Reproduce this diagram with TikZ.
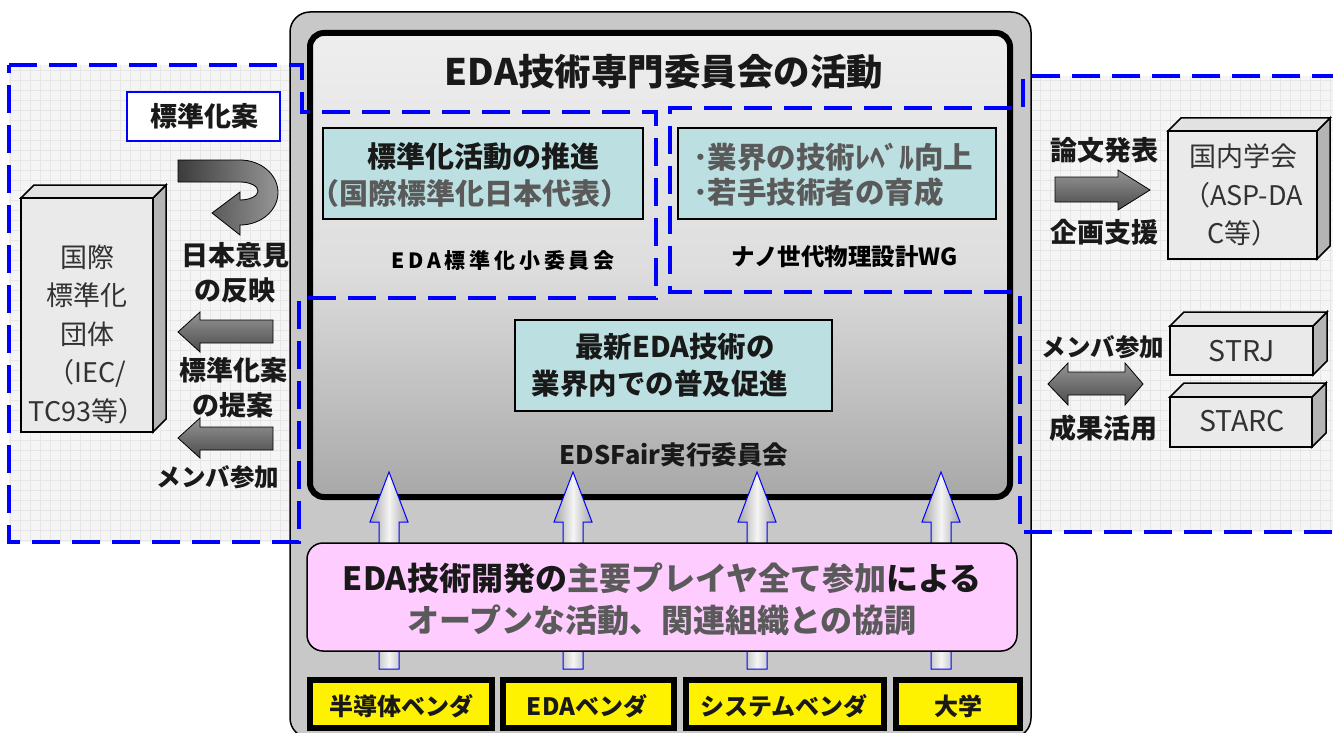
\documentclass[tikz,border=0pt]{standalone}
\usepackage{fontspec}
\setmainfont{Noto Sans CJK JP}
\newfontfamily\jpwide{Noto Sans CJK JP}[LetterSpace=18]
\definecolor{dblue}{RGB}{0,0,255}
\definecolor{cyanfill}{RGB}{188,224,226}
\definecolor{pinkfill}{RGB}{255,204,255}
\definecolor{txtgray}{RGB}{90,90,90}
\definecolor{txtblack}{RGB}{25,25,25}
\definecolor{txtdark}{RGB}{50,50,50}
\definecolor{outergray}{RGB}{200,200,200}
\definecolor{regionbg}{RGB}{245,245,245}
\definecolor{gridc}{RGB}{230,230,230}
\definecolor{boxfront}{RGB}{234,234,234}
\definecolor{boxtop}{RGB}{226,226,226}
\definecolor{boxside}{RGB}{180,180,180}
\definecolor{arrlight}{RGB}{150,150,150}
\definecolor{arrdark}{RGB}{75,75,75}
\definecolor{innertop}{RGB}{238,238,238}
\definecolor{innermid}{RGB}{222,222,222}
\definecolor{innerbot}{RGB}{168,168,168}
\newcommand{\tdbox}[5]{%
  \filldraw[fill=boxside, draw=black, line width=1.5] (#3,#2) -- ++(#5,-#5) -- ++(0,#4-#2) -- (#3,#4) -- cycle;
  \filldraw[fill=boxtop, draw=black, line width=1.5] (#1,#2) -- ++(#5,-#5) -- (#3+#5,#2-#5) -- (#3,#2) -- cycle;
  \filldraw[fill=boxfront, draw=black, line width=1.5] (#1,#2) rectangle (#3,#4);
}
\begin{document}
\begin{tikzpicture}[x=1pt,y=-1pt,
  lbl/.style={font=\bfseries\fontsize{27}{35}\selectfont, text=txtblack, align=center, inner sep=0pt},
  boxtxt/.style={font=\fontsize{27}{38.5}\selectfont, text=txtdark, align=center, inner sep=0pt},
  cyanbox/.style={fill=cyanfill, draw=black, line width=1.2},
  dreg/.style={draw=dblue, line width=4, dash pattern=on 28pt off 12pt},
  darrow/.style={top color=arrlight, bottom color=arrdark, draw=black, line width=0.8},
  uarrow/.style={left color=gray!70, right color=gray!70, middle color=gray!8, draw=dblue, line width=1},
  ybox/.style={fill=yellow, draw=black, line width=6},
  ytxt/.style={font=\bfseries\fontsize{24}{28}\selectfont, text=txtblack, inner sep=0pt},
]
\useasboundingbox (0,0) rectangle (1333,733);
\fill[white] (0,0) rectangle (1333,733);

% region backgrounds with faint grid
\begin{scope}
  \clip (9,65) -- (302,65) -- (302,112) -- (656,112) -- (656,298) -- (299,298) -- (299,542) -- (9,542) -- cycle;
  \fill[regionbg] (0,0) rectangle (700,560);
  \draw[gridc, line width=0.6, step=10pt] (0,560) grid (700,0);
\end{scope}
\begin{scope}
  \clip (1340,76) -- (1023,76) -- (1023,108) -- (670,108) -- (670,292) -- (1020,292) -- (1020,532) -- (1340,532) -- cycle;
  \fill[regionbg] (650,60) rectangle (1340,540);
  \draw[gridc, line width=0.6, step=10pt] (650,540) grid (1340,60);
\end{scope}

% outer gray frame
\filldraw[fill=outergray, draw=black, line width=1.5, rounded corners=20pt] (290,12) rectangle (1031,738);
% inner committee frame
\draw[line width=6, rounded corners=14pt, top color=innertop, bottom color=innerbot, middle color=innermid] (310,33) rectangle (1010,497);

% title
\node[font=\bfseries\fontsize{36.5}{40}\selectfont, text=txtblack, inner sep=0pt] (title) at (664,72) {EDA技術専門委員会の活動};

% dashed regions
\draw[dreg] (9,65) -- (302,65) -- (302,112) -- (656,112) -- (656,298) -- (299,298) -- (299,542) -- (9,542) -- cycle;
\draw[dreg] (1340,76) -- (1023,76) -- (1023,108) -- (670,108) -- (670,292) -- (1020,292) -- (1020,532) -- (1340,532);

% inner sub-committee boxes
\draw[cyanbox] (323,128) rectangle (643,219);
\node[font=\bfseries\fontsize{29}{36}\selectfont, text=txtblack, inner sep=0pt] (std1) at (483,157) {標準化活動の推進};
\node[font=\bfseries\fontsize{29}{36}\selectfont, text=txtgray, inner sep=0pt] (std2) at (470,193) {（国際標準化日本代表）};
\node[font=\jpwide\bfseries\fontsize{21}{26}\selectfont, text=black, inner sep=0pt] (edasub) at (503,260) {EDA標準化小委員会};

\draw[cyanbox] (678,128) rectangle (996,219);
\node[font=\bfseries\fontsize{29.5}{36}\selectfont, text=txtgray, inner sep=0pt, anchor=west] (nano1) at (693,157) {･業界の技術ﾚﾍﾞﾙ向上};
\node[font=\bfseries\fontsize{29.5}{36}\selectfont, text=txtgray, inner sep=0pt, anchor=west] (nano2) at (693,192) {･若手技術者の育成};
\node[font=\bfseries\fontsize{23.5}{26}\selectfont, text=black, inner sep=0pt] (nanowg) at (845,257) {ナノ世代物理設計WG};

\draw[cyanbox] (515,320) rectangle (832,411);
\node[font=\bfseries\fontsize{28.5}{37}\selectfont, text=txtblack, inner sep=0pt] (fair1) at (675,347) {最新EDA技術の};
\node[font=\bfseries\fontsize{28.5}{37}\selectfont, text=txtblack, inner sep=0pt] (fair2) at (660,384) {業界内での普及促進};
\node[font=\bfseries\fontsize{25.5}{28}\selectfont, text=txtblack, inner sep=0pt] (edsfair) at (674,455) {EDSFair実行委員会};

% up arrows
\foreach \cx in {389, 573, 757, 941}{
  \draw[uarrow] (\cx,472) -- (\cx+19,522) -- (\cx+10,522) -- (\cx+10,669) -- (\cx-10,669) -- (\cx-10,522) -- (\cx-19,522) -- cycle;
}

% pink box
\filldraw[fill=pinkfill, draw=black, line width=1.5, rounded corners=16pt] (307,543) rectangle (1017,651);
\node[font=\bfseries\fontsize{32}{42}\selectfont, text=txtblack, align=center, inner sep=0pt] (open) at (662,599)
  {EDA技術開発の\textcolor{txtgray}{主要プレイヤ全て参加}による\\\textcolor{txtgray}{オープンな活動、関連組織との協調}};

% bottom yellow boxes
\draw[ybox] (310,680) rectangle (492,728);
\draw[ybox] (503,680) rectangle (674,728);
\draw[ybox] (686,680) rectangle (884,728);
\draw[ybox] (896,680) rectangle (1020,728);
\node[ytxt] (v1) at (401,706) {半導体ベンダ};
\node[ytxt] (v2) at (587,706) {EDAベンダ};
\node[ytxt] (v3) at (784,706) {システムベンダ};
\node[ytxt] (v4) at (958,706) {大学};

% ---------- left region ----------
\filldraw[fill=white, draw=dblue, line width=1.5] (127,92) rectangle (280,141);
\node[lbl] (hyouan) at (204,116) {標準化案};
% U-turn arrow
\draw[left color=arrdark!80!black, right color=arrlight, draw=black, line width=0.8]
  (178,160) -- (240,160) arc[start angle=-90, end angle=90, x radius=38, y radius=32.5]
  -- (240,235) -- (212,213) -- (240,192) -- (240,200)
  arc[start angle=90, end angle=-90, x radius=18, y radius=9] -- (178,182) -- cycle;
\node[lbl] (iken) at (235,273) {日本意見\\の反映};
\tdbox{21}{198}{153}{432}{13}
\node[boxtxt] (intl) at (87,334) {国際\\標準化\\団体\\（IEC/\\TC93等）};
\draw[darrow] (178,332) -- (200,312) -- (200,320) -- (273,320) -- (273,343) -- (200,343) -- (200,352) -- cycle;
\node[lbl] (teian) at (233,387.5) {標準化案\\の提案};
\draw[darrow] (178,438) -- (200,418) -- (200,427) -- (273,427) -- (273,450) -- (200,450) -- (200,458) -- cycle;
\node[lbl, font=\bfseries\fontsize{24.5}{30}\selectfont] (memL) at (218,477) {メンバ参加};

% ---------- right region ----------
\node[lbl] (ronbun) at (1104,150) {論文発表};
\draw[darrow] (1055,177) -- (1118,177) -- (1118,170) -- (1150,190) -- (1118,210) -- (1118,202) -- (1055,202) -- cycle;
\node[lbl] (kikaku) at (1104,232) {企画支援};
\tdbox{1168}{131}{1317}{259}{13}
\node[boxtxt] (kokunai) at (1243,195) {国内学会\\（ASP-DA\\C等）};
\node[lbl, font=\bfseries\fontsize{24.5}{30}\selectfont] (memR) at (1103,347) {メンバ参加};
\draw[darrow] (1048,384) -- (1068,363) -- (1068,372) -- (1125,372) -- (1125,363) -- (1143,384) -- (1125,405) -- (1125,395) -- (1068,395) -- (1068,405) -- cycle;
\node[lbl] (seika) at (1103,428) {成果活用};
\tdbox{1170}{326}{1313}{375}{14}
\node[boxtxt, font=\fontsize{28.5}{30}\selectfont] (strj) at (1242,351) {STRJ};
\tdbox{1170}{397}{1312}{447}{14}
\node[boxtxt, font=\fontsize{28.5}{30}\selectfont] (starc) at (1242,421) {STARC};
\end{tikzpicture}
\end{document}
